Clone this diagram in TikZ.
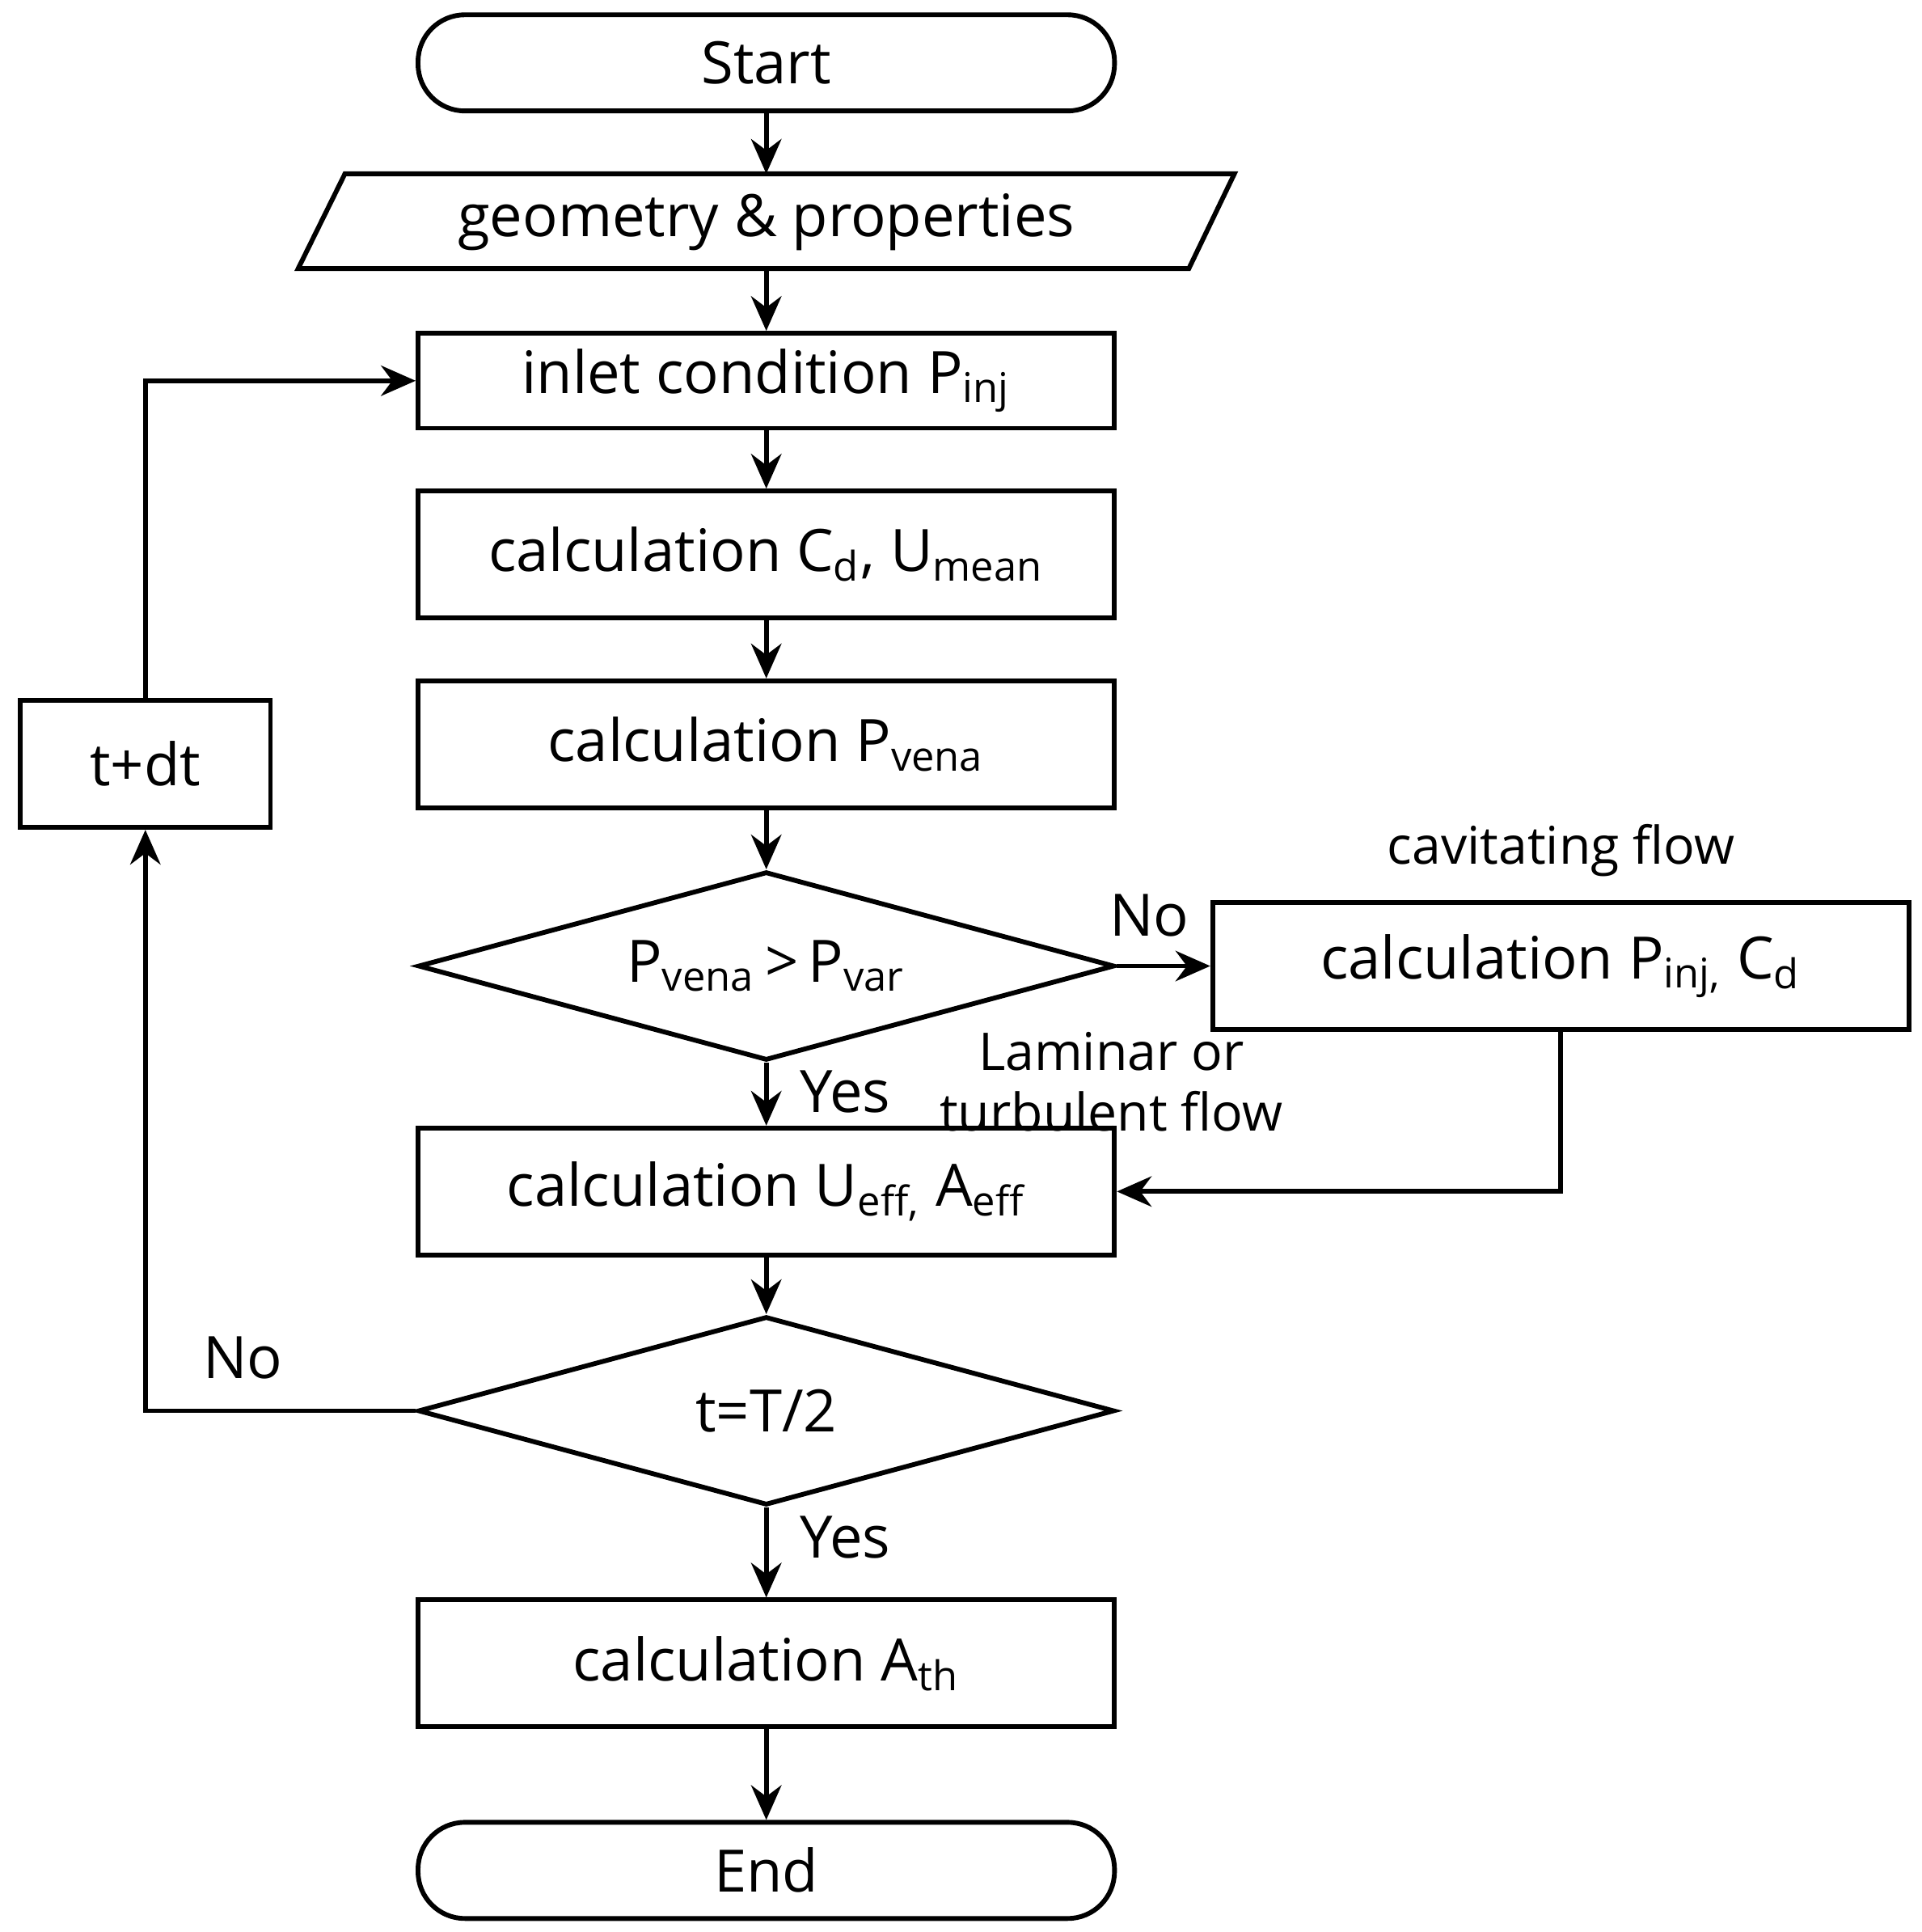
\documentclass[tikz,border=0pt]{standalone}
\usepackage{fontspec}
\setmainfont{Open Sans}
\usetikzlibrary{shapes.geometric,arrows.meta}
\begin{document}
\begin{tikzpicture}[x=0.01cm,y=-0.01cm,
  every node/.style={font=\fontsize{13.5pt}{16pt}\selectfont, inner sep=0pt},
  box/.style={draw, line width=1.1pt, minimum width=5.65cm, minimum height=1.03cm},
  term/.style={draw, line width=1.1pt, rounded corners=0.38cm, minimum width=5.65cm, minimum height=0.78cm},
  dia/.style={draw, line width=1.1pt, diamond, aspect=3.7, minimum width=5.65cm, minimum height=1.53cm},
  lbl/.style={font=\fontsize{12pt}{14pt}\selectfont, align=center},
  arr/.style={line width=1.1pt, -{Stealth[length=8pt,width=7pt]}},
  ln/.style={line width=1.1pt}]
\useasboundingbox (0,0) rectangle (1560,1568);
\node[term] (start) at (622,51) {Start};
\node[minimum width=5.65cm, minimum height=0.77cm] (geo) at (622,180) {geometry \& properties};
\draw[ln] (280,141) -- (1002,141) -- (965,218) -- (242,218) -- cycle;
\node[box, minimum height=0.77cm] (inlet) at (622,309) {inlet condition P\textsubscript{inj}};
\node[box] (cd) at (622,450) {calculation C\textsubscript{d}, U\textsubscript{mean}};
\node[box] (pv) at (622,604) {calculation P\textsubscript{vena}};
\node[dia] (d1) at (622,784) {P\textsubscript{vena}\,>\,P\textsubscript{var}};
\node[box] (cav) at (1267,784) {calculation P\textsubscript{inj,} C\textsubscript{d}};
\node[box] (ue) at (622,967) {calculation U\textsubscript{eff,} A\textsubscript{eff}};
\node[dia] (d2) at (622,1145) {t=T/2};
\node[box] (ath) at (622,1350) {calculation A\textsubscript{th}};
\node[term] (end) at (622,1518) {End};
\node[draw, line width=1.1pt, minimum width=2.03cm, minimum height=1.03cm] (tdt) at (118,620) {t+dt};
\node[lbl] (l1) at (1267,690) {cavitating flow};
\node (l2) at (933,743) {No};
\node[lbl] (l3) at (902,878) {Laminar or\\turbulent flow};
\node (l4) at (686,886) {Yes};
\node (l5) at (197,1102) {No};
\node (l6) at (686,1248) {Yes};
\coordinate (c1) at (118,1145);
\coordinate (c2) at (118,309);
\coordinate (c3) at (1267,967);
\draw[arr] (start) -- (622,141);
\draw[arr] (622,218) -- (inlet);
\draw[arr] (inlet) -- (cd);
\draw[arr] (cd) -- (pv);
\draw[arr] (pv) -- (d1);
\draw[arr] (d1) -- (cav);
\draw[arr] (d1) -- (ue);
\draw[arr] (cav.south) -- (c3) -- (ue.east);
\draw[arr] (ue) -- (d2);
\draw[arr] (d2) -- (ath);
\draw[arr] (ath) -- (end);
\draw[arr] (d2.west) -- (c1) -- (tdt.south);
\draw[arr] (tdt.north) -- (c2) -- (inlet.west);
\end{tikzpicture}
\end{document}
